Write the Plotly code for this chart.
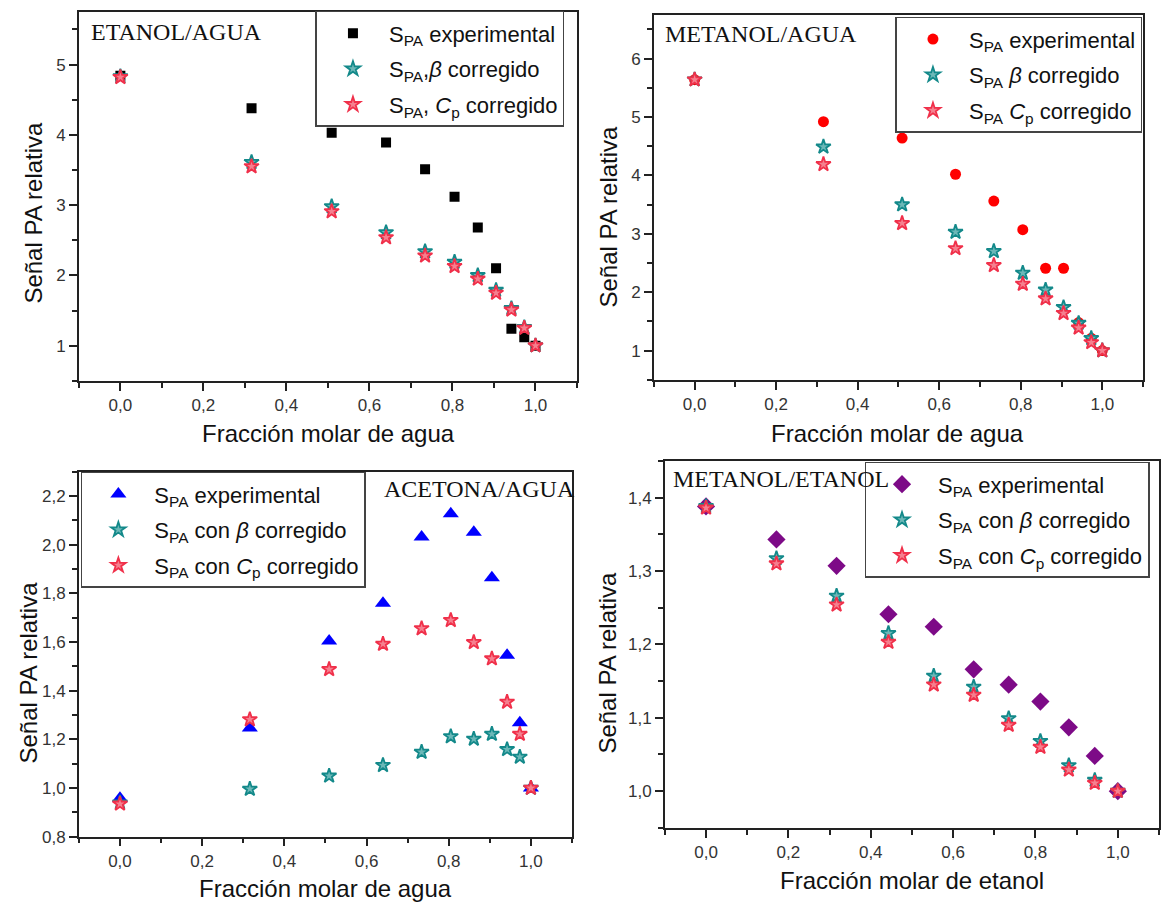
import plotly.graph_objects as go

# Mole fractions (water for the first three systems, ethanol for the last)
x_agua = [0, 0.316, 0.509, 0.640, 0.734, 0.805, 0.861, 0.905, 0.942, 0.973, 1.0]
x_etanol = [0, 0.171, 0.317, 0.443, 0.553, 0.650, 0.735, 0.812, 0.881, 0.944, 1.0]

# Etanol / agua
eta_exp = [4.84, 4.38, 4.03, 3.89, 3.51, 3.12, 2.68, 2.10, 1.24, 1.12, 1.0]
eta_beta = [4.83, 3.61, 2.98, 2.61, 2.34, 2.19, 2.00, 1.79, 1.53, 1.26, 1.0]
eta_cp = [4.82, 3.55, 2.91, 2.54, 2.28, 2.13, 1.95, 1.75, 1.51, 1.25, 1.0]

# Metanol / agua
met_exp = [5.64, 4.92, 4.64, 4.02, 3.56, 3.07, 2.41, 2.41, 1.48, 1.21, 1.0]
met_beta = [5.64, 4.49, 3.50, 3.03, 2.70, 2.33, 2.04, 1.74, 1.47, 1.21, 1.0]
met_cp = [5.64, 4.19, 3.18, 2.75, 2.46, 2.14, 1.89, 1.64, 1.39, 1.14, 1.0]

# Acetona / agua
ace_exp = [0.958, 1.247, 1.604, 1.760, 2.032, 2.127, 2.051, 1.864, 1.546, 1.268, 1.0]
ace_beta = [0.940, 0.996, 1.050, 1.094, 1.148, 1.212, 1.202, 1.222, 1.159, 1.128, 1.0]
ace_cp = [0.935, 1.282, 1.488, 1.592, 1.656, 1.690, 1.599, 1.532, 1.354, 1.222, 1.0]

# Metanol / etanol
me_exp = [1.388, 1.343, 1.307, 1.241, 1.224, 1.166, 1.145, 1.122, 1.087, 1.048, 1.0]
me_beta = [1.388, 1.317, 1.266, 1.215, 1.157, 1.142, 1.099, 1.068, 1.035, 1.015, 1.0]
me_cp = [1.386, 1.310, 1.254, 1.203, 1.145, 1.131, 1.090, 1.060, 1.029, 1.011, 1.0]

W, H = 1161, 912
TEAL = "#13898a"
TEAL_FILL = "#6cb8b8"
PINK = "#f0304a"
PINK_FILL = "#f5808f"
SANS = "Liberation Sans, Arial, sans-serif"
SERIF = "Liberation Serif, Times New Roman, serif"

fig = go.Figure()
_group = [0]


def add(x, y, marker, name, xa, ya, legend):
    _group[0] += 1
    fig.add_trace(go.Scatter(
        x=x, y=y, mode="markers", name=name, xaxis=xa, yaxis=ya, legend=legend,
        legendgroup="g%d" % _group[0], marker=marker,
    ))


def star(x, y, color, fill, name, xa, ya, legend):
    add(x, y, dict(symbol="star", size=11, color=fill, line=dict(width=1.8, color=color)),
        name, xa, ya, legend)


def main(x, y, symbol, size, color, name, xa, ya, legend):
    add(x, y, dict(symbol=symbol, size=size, color=color, line=dict(width=0)),
        name, xa, ya, legend)


SPA = "S<sub>PA</sub>"

# Panel 1
main(x_agua, eta_exp, "square", 10, "#000000", SPA + " experimental", "x", "y", "legend")
star(x_agua, eta_beta, TEAL, TEAL_FILL, SPA + ",<i>β</i> corregido", "x", "y", "legend")
star(x_agua, eta_cp, PINK, PINK_FILL, SPA + ", <i>C</i><sub>p</sub> corregido", "x", "y", "legend")

# Panel 2
main(x_agua, met_exp, "circle", 11, "#ff0000", SPA + " experimental", "x2", "y2", "legend2")
star(x_agua, met_beta, TEAL, TEAL_FILL, SPA + " <i>β</i> corregido", "x2", "y2", "legend2")
star(x_agua, met_cp, PINK, PINK_FILL, SPA + " <i>C</i><sub>p</sub> corregido", "x2", "y2", "legend2")

# Panel 3
main(x_agua, ace_exp, "triangle-up", 14, "#0000ff", SPA + " experimental", "x3", "y3", "legend3")
star(x_agua, ace_beta, TEAL, TEAL_FILL, SPA + " con <i>β</i> corregido", "x3", "y3", "legend3")
star(x_agua, ace_cp, PINK, PINK_FILL, SPA + " con <i>C</i><sub>p</sub> corregido", "x3", "y3", "legend3")

# Panel 4
main(x_etanol, me_exp, "diamond", 14, "#7d0a87", SPA + " experimental", "x4", "y4", "legend4")
star(x_etanol, me_beta, TEAL, TEAL_FILL, SPA + " con <i>β</i> corregido", "x4", "y4", "legend4")
star(x_etanol, me_cp, PINK, PINK_FILL, SPA + " con <i>C</i><sub>p</sub> corregido", "x4", "y4", "legend4")


def px_x(p):
    return p / W


def px_y(p):
    return 1 - p / H


def xaxis(dom, anchor):
    return dict(
        domain=dom, anchor=anchor, range=[-0.1, 1.1], tick0=0, dtick=0.2,
        tickformat=".1f", ticks="outside", ticklen=8, tickwidth=1.5, tickcolor="#222",
        showline=True, linecolor="#222", linewidth=1.5, mirror=True, showgrid=False,
        zeroline=False, tickfont=dict(family=SANS, size=17, color="#333"),
        minor=dict(dtick=0.1, tick0=0, ticks="outside", ticklen=5, tickwidth=1.5, tickcolor="#222"),
    )


def yaxis(dom, anchor, rng, dtick, mdtick, fmt):
    return dict(
        domain=dom, anchor=anchor, range=rng, tick0=0, dtick=dtick,
        tickformat=fmt, ticks="outside", ticklen=8, tickwidth=1.5, tickcolor="#222",
        showline=True, linecolor="#222", linewidth=1.5, mirror=True, showgrid=False,
        zeroline=False, tickfont=dict(family=SANS, size=17, color="#333"),
        minor=dict(dtick=mdtick, tick0=0, ticks="outside", ticklen=5, tickwidth=1.5, tickcolor="#222"),
    )


def legend(left, top):
    return dict(
        x=px_x(left), y=px_y(top), xanchor="left", yanchor="top",
        bgcolor="white", bordercolor="#444", borderwidth=1.5,
        font=dict(family=SANS, size=22, color="#111"), itemwidth=62,
        tracegroupgap=4, traceorder="grouped",
    )


annotations = []


def text(s, x, y, size=24, family=SANS, angle=0, xanchor="center"):
    annotations.append(dict(
        text=s, x=px_x(x), y=px_y(y), xref="paper", yref="paper", showarrow=False,
        xanchor=xanchor, yanchor="middle", textangle=angle,
        font=dict(family=family, size=size, color="#111"),
    ))


# axis titles
text("Fracción molar de agua", 329, 438)
text("Señal PA relativa", 34, 215, angle=-90)
text("Fracción molar de agua", 899, 438)
text("Señal PA relativa", 610, 219, angle=-90)
text("Fracción molar de agua", 326, 898)
text("Señal PA relativa", 29, 680, angle=-90)
text("Fracción molar de etanol", 914, 890)
text("Señal PA relativa", 609, 670, angle=-90)

# system labels
text("ETANOL/AGUA", 89, 32, family=SERIF, xanchor="left")
text("METANOL/AGUA", 664, 34, family=SERIF, xanchor="left")
text("ACETONA/AGUA", 383, 494, family=SERIF, xanchor="left")
text("METANOL/ETANOL", 672, 484, family=SERIF, xanchor="left")

fig.update_layout(
    width=W, height=H, margin=dict(l=0, r=0, t=0, b=0),
    paper_bgcolor="white", plot_bgcolor="white", separators=",.",
    showlegend=True,
    xaxis=xaxis([px_x(79), px_x(578)], "y"),
    yaxis=yaxis([px_y(385), px_y(12)], "x", [0.5, 5.75], 1, 0.5, "d"),
    xaxis2=xaxis([px_x(655), px_x(1145)], "y2"),
    yaxis2=yaxis([px_y(384), px_y(15)], "x2", [0.5, 6.75], 1, 0.5, "d"),
    xaxis3=xaxis([px_x(79), px_x(573)], "y3"),
    yaxis3=yaxis([px_y(846), px_y(477)], "x3", [0.8, 2.3], 0.2, 0.1, ".1f"),
    xaxis4=xaxis([px_x(666), 1.0], "y4"),
    yaxis4=yaxis([px_y(837), px_y(466)], "x4", [0.95, 1.45], 0.1, 0.05, ".1f"),
    legend=legend(316, 11),
    legend2=legend(897, 17),
    legend3=legend(81, 477),
    legend4=legend(866, 467),
    annotations=annotations,
)

fig.write_html("out.html")
